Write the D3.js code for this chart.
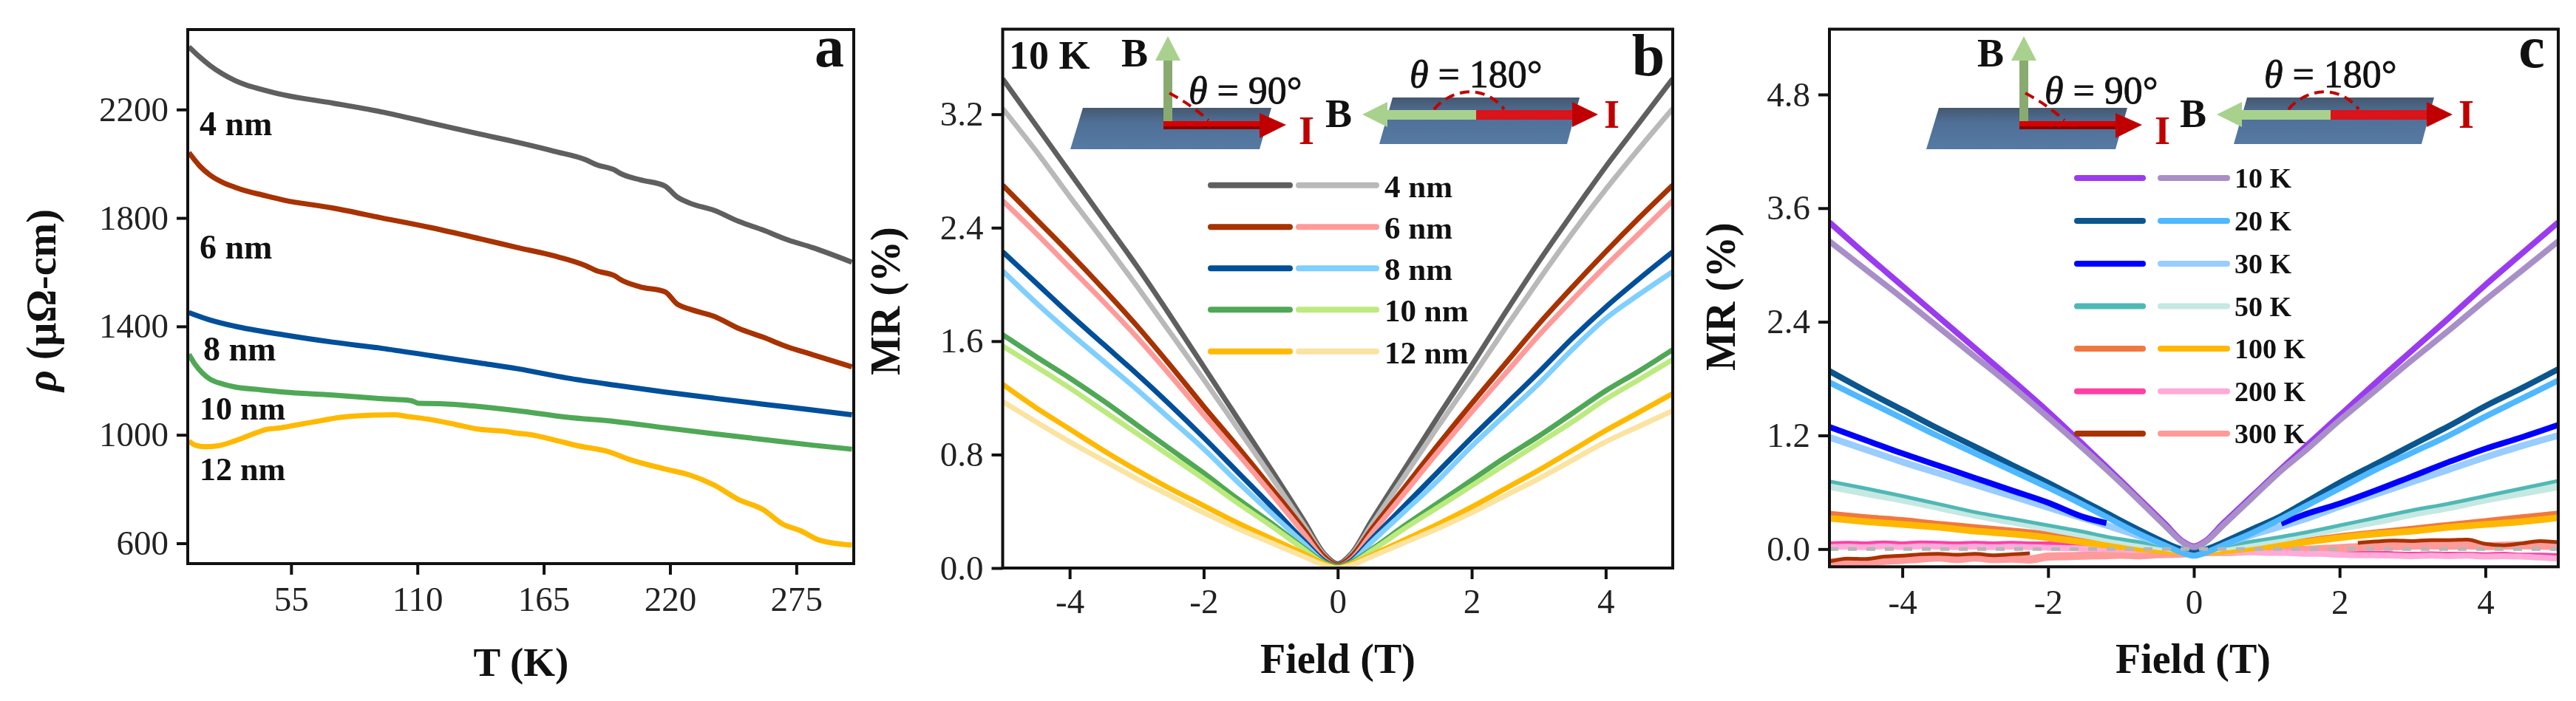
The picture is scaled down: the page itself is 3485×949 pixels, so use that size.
<!DOCTYPE html>
<html><head><meta charset="utf-8">
<script src="https://d3js.org/d3.v7.min.js"></script>
<style>
html,body{margin:0;padding:0;background:#fff}
svg{display:block;filter:blur(.7px)}
text{font-family:"Liberation Serif",serif}
</style></head><body><svg id="fig" width="3485" height="949"></svg>
<script>
// ---------- panel a: resistivity vs temperature ----------
const tickTa=[55,110,165,220,275];
const tickRho=[600,1000,1400,1800,2200];
const T4=[10.5,15.3,19.6,25,30.3,35.6,41,51.7,73,94.6,116,137.4,153.5,169.6,183.5,187.8,196.3,198,207,217.8,223,228.5,239.2,250,260.6,271.3,282,299.2];
const rho4=[2431,2393,2363,2332,2308,2290,2277,2254,2224,2191,2150,2109,2079,2046,2014,1997,1975,1966,1941,1918,1878,1855,1828,1787,1755,1719,1691,1637];
const rho6=[2041,1991,1959,1932,1914,1899,1888,1866,1837,1800,1764,1723,1691,1660,1623,1606,1585,1575,1546,1528,1483,1464,1437,1392,1360,1324,1296,1251];
const T8=[10.5,19.6,30.3,51.7,73,94.6,116,137.4,153.5,175,196.3,217.8,239.2,260.6,282,299.2];
const rho8=[1451,1424,1401,1369,1342,1319,1292,1265,1244,1210,1183,1158,1135,1113,1092,1074];
const T10=[10.5,13.2,16.4,19.6,25,30.3,41,51.7,73,94.6,107.4,110.6,120,137.4,153.5,175,196.3,217.8,239.2,260.6,282,299.2];
const rho10=[1297,1260,1228,1206,1188,1177,1167,1158,1147,1133,1126,1116,1115,1104,1089,1065,1049,1026,1004,983,962,947];
const T12=[10.5,13.2,17.5,22.8,30.3,37.8,44.2,49.6,57,67.8,74.2,83.9,100,105.3,116,126.7,137.4,148.1,153.5,158.9,169.6,180.3,193.1,201.7,217.8,228.5,239.2,249.9,260.6,269.2,276.7,285.2,299.2];
const rho12=[977,962,956,959,977,1001,1020,1025,1036,1052,1062,1070,1074,1068,1056,1038,1020,1013,1006,1001,981,959,938,911,874,852,815,761,724,670,647,611,593];

// ---------- panel b: MR vs field at 10 K, by thickness ----------
const tickFieldB=[-4,-2,0,2,4];
const tickMRb=[0,0.8,1.6,2.4,3.2];
const fieldB=[-5,-4.5,-4,-3.5,-3,-2.5,-2,-1.5,-1,-0.5,-0.2,0,0.2,0.5,1,1.5,2,2.5,3,3.5,4,4.5,5];
const mr4a=[3.45,3.12,2.79,2.46,2.13,1.78,1.42,1.06,.7,.33,.1,.03,.1,.33,.7,1.07,1.43,1.8,2.16,2.5,2.83,3.14,3.45];
const mr4b=[3.24,2.94,2.62,2.31,1.99,1.66,1.33,.99,.65,.3,.09,.02,.09,.3,.65,1,1.34,1.69,2.03,2.36,2.67,2.96,3.24];
const mr6a=[2.7,2.46,2.22,1.97,1.71,1.43,1.14,.86,.57,.27,.08,.02,.08,.27,.57,.87,1.16,1.44,1.72,1.98,2.23,2.47,2.7];
const mr6b=[2.59,2.36,2.12,1.88,1.63,1.36,1.08,.81,.53,.24,.06,.01,.06,.24,.53,.82,1.1,1.37,1.64,1.89,2.13,2.36,2.59];
const mr8a=[2.23,2.01,1.79,1.58,1.37,1.15,.92,.68,.44,.19,.05,.01,.05,.2,.44,.68,.92,1.15,1.38,1.62,1.84,2.04,2.23];
const mr8b=[2.095,1.87,1.66,1.46,1.26,1.05,.84,.61,.39,.17,.04,.01,.04,.18,.4,.62,.86,1.08,1.3,1.54,1.76,1.93,2.09];
const mr10a=[1.645,1.49,1.34,1.18,1.01,.84,.67,.49,.32,.14,.04,.01,.04,.13,.3,.46,.62,.78,.93,1.09,1.25,1.39,1.54];
const mr10b=[1.565,1.42,1.27,1.11,.95,.79,.63,.46,.3,.13,.03,0,.03,.12,.28,.43,.58,.73,.88,1.03,1.19,1.33,1.47];
const mr12a=[1.295,1.13,.98,.83,.69,.56,.44,.32,.21,.1,.03,0,.03,.09,.2,.31,.43,.56,.69,.83,.97,1.1,1.23];
const mr12b=[1.174,1.03,.89,.76,.63,.51,.39,.28,.18,.08,.02,0,.02,.08,.18,.28,.39,.51,.63,.76,.89,1,1.11];
const thicknessLabels=["4 nm","6 nm","8 nm","10 nm","12 nm"];

// ---------- panel c: MR vs field by temperature ----------
const tickFieldC=[-4,-2,0,2,4];
const tickMRc=[0,1.2,2.4,3.6,4.8];
const fieldC=[-5,-4.5,-4,-3.5,-3,-2.5,-2,-1.5,-1.2,-.8,-.4,-.15,0,.15,.4,.8,1.2,1.5,2,2.5,3,3.5,4,4.5,5];
const k10a=[3.45,3.11,2.78,2.45,2.12,1.79,1.45,1.09,.87,.57,.27,.08,.03,.08,.27,.56,.85,1.06,1.41,1.76,2.1,2.44,2.79,3.12,3.45];
const k10b=[3.25,2.95,2.65,2.34,2.03,1.72,1.39,1.05,.84,.55,.25,.07,.02,.07,.25,.54,.83,1.02,1.36,1.68,2,2.31,2.63,2.94,3.25];
const k20a=[1.88,1.67,1.47,1.27,1.08,.89,.7,.5,.38,.22,.07,-.01,-.03,-.01,.07,.21,.35,.48,.7,.9,1.1,1.3,1.51,1.7,1.9];
const k20b=[1.76,1.57,1.38,1.19,1.01,.83,.65,.46,.34,.18,.04,-.04,-.07,-.04,.04,.17,.32,.44,.64,.84,1.02,1.2,1.4,1.59,1.78];
const k30a=[1.29,1.15,1.01,.88,.75,.62,.49,.335,.275,null,null,null,null,null,null,null,.27,.36,.48,.62,.77,.92,1.06,1.18,1.31];
const k30b=[1.18,1.05,.92,.8,.68,.56,.44,.32,.25,.15,.05,0,-.02,0,.05,.15,.24,.31,.45,.58,.71,.84,.97,1.09,1.2];
const k50a=[.715,.64,.56,.475,.39,.32,.25,.18,.13,.08,.03,0,-.01,0,.03,.08,.13,.17,.25,.33,.41,.48,.56,.64,.72];
const k50b=[.665,.59,.52,.44,.36,.29,.22,.15,.11,.06,.02,-.01,-.02,-.01,.02,.06,.11,.15,.22,.29,.37,.44,.52,.59,.66];
const k100a=[.377,.34,.31,.27,.235,.2,.16,.1,.07,.03,0,-.02,-.03,-.02,0,.03,.07,.09,.14,.18,.22,.26,.3,.34,.38];
const k100b=[.325,.29,.26,.23,.19,.16,.12,.07,.04,.01,-.02,-.03,-.04,-.03,-.02,.01,.04,.07,.12,.16,.19,.23,.26,.29,.33];
const fieldFine=[-5,-4.75,-4.5,-4.25,-4,-3.75,-3.5,-3.25,-3,-2.75,-2.5,-2.25,-2,-1.75,-1.5,-1.25,-1,-.75,-.5,-.25,0,.25,.5,.75,1,1.25,1.5,1.75,2,2.25,2.5,2.75,3,3.25,3.5,3.75,4,4.25,4.5,4.75,5];
const k200a=[.05,.055,.05,.06,.05,.06,.055,.05,.055,.05,.055,.05,.05,.045,.04,.03,.02,.015,.005,0,-.01,-.015,-.02,-.02,-.03,-.03,-.04,-.04,-.05,-.05,-.05,-.055,-.06,-.055,-.06,-.06,-.065,-.06,-.07,-.07,-.075];
const k200b=[.02,.025,.02,.03,.02,.03,.025,.02,.025,.02,.025,.02,.015,.01,.005,0,-.005,-.01,-.01,-.01,-.02,-.03,-.03,-.03,-.04,-.04,-.05,-.05,-.06,-.065,-.065,-.07,-.075,-.07,-.075,-.07,-.08,-.075,-.08,-.09,-.1];
const k300a=[-.13,-.1,-.105,-.08,-.07,-.055,-.05,-.06,-.05,-.065,-.055,-.045,null,null,null,null,null,null,null,null,null,null,null,null,null,null,null,null,null,.065,.08,.09,.085,.095,.095,.1,.055,.04,.06,.085,.072];
const k300b=[-.14,-.135,-.145,-.125,-.115,-.1,-.09,-.105,-.09,-.105,-.1,-.11,-.08,-.075,-.07,-.065,-.06,-.065,-.055,-.05,-.04,-.03,-.03,-.02,-.02,-.01,-.01,0,.01,.02,.025,.03,.035,.04,.035,.04,.03,.035,.04,.035,.03];
const zeroField=[-5,5];
const zeroMR=[0,0];
const tempLabels=["10 K","20 K","30 K","50 K","100 K","200 K","300 K"];

// ---------- colours ----------
const cThick=[["#5f5f5f","#b9b9b9"],["#a83200","#ff9a9a"],["#004f9a","#7fcfff"],["#4fa855","#bdea7f"],["#ffb900","#fbe3a0"]];
const cTemp=[["#9b3bf0","#a98fc8"],["#0b568f","#4fb8ff"],["#0000ff","#99ccff"],["#4fb8b5","#c5e8e3"],["#f07840","#ffb800"],["#ff3fa6","#ffaad8"],["#a83200","#ff9a9a"]];

const svg=d3.select("#fig");
const defs=svg.append("defs");
const grad=defs.append("linearGradient").attr("id","plate").attr("x1",0).attr("y1",0).attr("x2",0).attr("y2",1);
grad.append("stop").attr("offset","0").attr("stop-color","#45586f");
grad.append("stop").attr("offset",".35").attr("stop-color","#4f6f96");
grad.append("stop").attr("offset","1").attr("stop-color","#567aa3");

function frame(id,x,y,tx,ty,xp,yp,fmt){
  const g=svg.append("g");
  const [x0,x1]=x.range(),[y0,y1]=y.range();
  defs.append("clipPath").attr("id",id).append("rect").attr("x",x0).attr("y",y1).attr("width",x1-x0).attr("height",y0-y1);
  const ax=d3.axisBottom(x).tickValues(tx).tickSize(15).tickSizeOuter(0).tickPadding(xp).tickFormat(d=>String(d));
  const ay=d3.axisLeft(y).tickValues(ty).tickSize(15).tickSizeOuter(0).tickPadding(yp).tickFormat(fmt);
  const gx=g.append("g").attr("transform",`translate(0,${y0})`).call(ax);
  const gy=g.append("g").attr("transform",`translate(${x0},0)`).call(ay);
  [gx,gy].forEach(a=>{a.select(".domain").remove();
    a.selectAll("line").attr("stroke","#111").attr("stroke-width",4);
    a.selectAll("text").attr("font-size",47).attr("font-family","Liberation Serif").attr("fill","#222");});
  return g;
}
function box(x,y){
  const [x0,x1]=x.range(),[y0,y1]=y.range();
  svg.append("rect").attr("x",x0).attr("y",y1).attr("width",x1-x0).attr("height",y0-y1)
    .attr("fill","none").attr("stroke","#111").attr("stroke-width",4);
}
function curve(id,x,y,xs,ys,col,w,dash){
  const pts=xs.map((d,i)=>[d,ys[i]]);
  const line=d3.line().defined(d=>d[1]!==null).x(d=>x(d[0])).y(d=>y(d[1])).curve(d3.curveMonotoneX);
  const p=svg.append("path").datum(pts).attr("d",line).attr("fill","none").attr("stroke",col)
    .attr("stroke-width",w).attr("stroke-linejoin","round").attr("clip-path",`url(#${id})`);
  if(dash)p.attr("stroke-dasharray",dash);
}
function label(s,x,y,size,opt={}){
  return svg.append("text").attr("x",x).attr("y",y).attr("font-size",size)
    .attr("font-weight",opt.weight||"bold").attr("text-anchor",opt.anchor||"start")
    .attr("fill",opt.fill||"#111").text(s);
}
function vlabel(x,y,size,parts){
  const t=svg.append("text").attr("transform",`translate(${x},${y}) rotate(-90)`).attr("font-size",size).attr("font-weight","bold").attr("fill","#111");
  parts.forEach(([s,it])=>{const sp=t.append("tspan").text(s);if(it)sp.attr("font-style","italic");});
}

// ===== panel a =====
const xA=d3.scaleLinear().domain([10,300]).range([254,1155]);
const yA=d3.scaleLinear().domain([525,2495]).range([763,40]);
frame("ca",xA,yA,tickTa,tickRho,16,11,d=>String(d));
curve("ca",xA,yA,T4,rho4,cThick[0][0],7);
curve("ca",xA,yA,T4,rho6,cThick[1][0],7);
curve("ca",xA,yA,T8,rho8,cThick[2][0],7);
curve("ca",xA,yA,T10,rho10,cThick[3][0],7);
curve("ca",xA,yA,T12,rho12,cThick[4][0],7);
box(xA,yA);
[[270,183],[270,350],[275,488],[270,568],[270,650]].forEach((p,i)=>label(thicknessLabels[i],p[0],p[1],i<3?46:44));
label("a",1122,90,80,{anchor:"middle"});
label("T (K)",705,915,55,{anchor:"middle"});
vlabel(75,530,56,[["ρ",true],[" (μΩ-cm)",false]]);

// ===== panel b =====
const xB=d3.scaleLinear().domain([-5,5]).range([1356.5,2263]);
const yB=d3.scaleLinear().domain([0,3.8]).range([769,39.5]);
frame("cb",xB,yB,tickFieldB,tickMRb,13,11,d3.format(".1f"));
[[mr4a,mr4b],[mr6a,mr6b],[mr8a,mr8b],[mr10a,mr10b],[mr12a,mr12b]].forEach((s,i)=>{
  curve("cb",xB,yB,fieldB,s[0],cThick[i][0],7);
  curve("cb",xB,yB,fieldB,s[1],cThick[i][1],7);
});
box(xB,yB);
const legB=[250.7,307.3,363.3,419.3,475.7];
legB.forEach((y,i)=>{
  svg.append("line").attr("x1",1638).attr("x2",1745).attr("y1",y).attr("y2",y).attr("stroke",cThick[i][0]).attr("stroke-width",8).attr("stroke-linecap","round");
  svg.append("line").attr("x1",1757).attr("x2",1862).attr("y1",y).attr("y2",y).attr("stroke",cThick[i][1]).attr("stroke-width",8).attr("stroke-linecap","round");
  label(thicknessLabels[i],1873,y+16,43);
});
label("10 K",1365,93,54);
label("b",2230,102,80,{anchor:"middle"});
label("Field (T)",1810,911,56,{anchor:"middle"});
vlabel(1217,508,56,[["MR (%)",false]]);

// ===== panel c =====
const xC=d3.scaleLinear().domain([-5,5]).range([2475,3461]);
const yC=d3.scaleLinear().domain([-0.187,5.49]).range([767.3,39.5]);
frame("cc",xC,yC,tickFieldC,tickMRc,15,11,d3.format(".1f"));
curve("cc",xC,yC,fieldFine,k200a,cTemp[5][0],8);
curve("cc",xC,yC,fieldFine,k300b,cTemp[6][1],11);
curve("cc",xC,yC,fieldFine,k200b,cTemp[5][1],8);
curve("cc",xC,yC,fieldFine,k300a,cTemp[6][0],5);
curve("cc",xC,yC,fieldC,k100a,cTemp[4][0],7);
curve("cc",xC,yC,fieldC,k100b,cTemp[4][1],9);
curve("cc",xC,yC,fieldC,k50b,cTemp[3][1],10);
curve("cc",xC,yC,fieldC,k50a,cTemp[3][0],5);
curve("cc",xC,yC,fieldC,k30b,cTemp[2][1],9);
curve("cc",xC,yC,fieldC,k30a,cTemp[2][0],8);
curve("cc",xC,yC,fieldC,k20a,cTemp[1][0],8);
curve("cc",xC,yC,fieldC,k20b,cTemp[1][1],8);
curve("cc",xC,yC,fieldC,k10a,cTemp[0][0],8);
curve("cc",xC,yC,fieldC,k10b,cTemp[0][1],8);
curve("cc",xC,yC,zeroField,zeroMR,"#b5b5b5",5,"12 13");
box(xC,yC);
const legC=[241,299,357,414.6,472,529.7,587];
legC.forEach((y,i)=>{
  svg.append("line").attr("x1",2810).attr("x2",2899).attr("y1",y).attr("y2",y).attr("stroke",cTemp[i][0]).attr("stroke-width",8).attr("stroke-linecap","round");
  svg.append("line").attr("x1",2923).attr("x2",3013).attr("y1",y).attr("y2",y).attr("stroke",cTemp[i][1]).attr("stroke-width",8).attr("stroke-linecap","round");
  label(tempLabels[i],3023,y+13,38);
});
label("c",3425,91,80,{anchor:"middle"});
label("Field (T)",2967,911,56,{anchor:"middle"});
vlabel(2347,502,56,[["MR (%)",false]]);

// ===== schematic insets =====
const pts=a=>a.map(p=>p.join(",")).join(" ");
function theta(x,y,s){
  const t=svg.append("text").attr("x",x).attr("y",y).attr("font-size",52).attr("fill","#111").attr("stroke","#111").attr("stroke-width",.8);
  t.append("tspan").attr("font-style","italic").text("θ");
  t.append("tspan").text(" = "+s+"°");
}
function inset1(dx){
  const g=svg.append("g").attr("transform",`translate(${dx},0)`);
  g.append("polygon").attr("points",pts([[1465,146],[1720,146],[1704,202],[1448,202]])).attr("fill","url(#plate)");
  g.append("rect").attr("x",1574).attr("y",82).attr("width",12).attr("height",82).attr("fill","#8aab70");
  g.append("polygon").attr("points",pts([[1580,49],[1597,82],[1563,82]])).attr("fill","#a9d18e");
  g.append("rect").attr("x",1574).attr("y",164).attr("width",131).attr("height",7).attr("fill","#d60000");
  g.append("rect").attr("x",1574).attr("y",171).attr("width",131).attr("height",4).attr("fill","#8a0000");
  g.append("polygon").attr("points",pts([[1704,153],[1740,169],[1704,187]])).attr("fill","#c00000");
  g.append("path").attr("d","M1582,126Q1612,142 1635,163").attr("fill","none").attr("stroke","#c00000").attr("stroke-width",4).attr("stroke-dasharray","13 8");
}
function inset2(dx){
  const g=svg.append("g").attr("transform",`translate(${dx},0)`);
  g.append("polygon").attr("points",pts([[1884,132],[2137,132],[2120,195],[1866,195]])).attr("fill","url(#plate)");
  g.append("rect").attr("x",1876).attr("y",149).attr("width",121).attr("height",13).attr("fill","#a9d18e");
  g.append("polygon").attr("points",pts([[1843,155],[1877,138],[1877,172]])).attr("fill","#a9d18e");
  g.append("rect").attr("x",1997).attr("y",149).attr("width",130).attr("height",13).attr("fill","#d9141a");
  g.append("polygon").attr("points",pts([[2127,138],[2162,155],[2127,172]])).attr("fill","#c00000");
  g.append("path").attr("d","M1940,148C1965,118 2010,115 2035,148").attr("fill","none").attr("stroke","#c00000").attr("stroke-width",4).attr("stroke-dasharray","13 8");
}
[[0,0],[1158,1156]].forEach(([d1,d2])=>{
  inset1(d1); inset2(d2);
  label("B",1517+d1,90,54);
  label("I",1757+d1,195,54,{fill:"#c00000"});
  theta(1608+d1,140,"90");
  label("B",1793+d2,172,54);
  label("I",2170+d2,173,54,{fill:"#c00000"});
  theta(1907+d2,118,"180");
});
</script></body></html>
